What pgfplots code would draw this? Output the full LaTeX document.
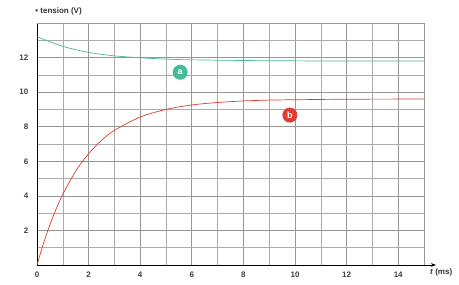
\documentclass[border=0pt]{standalone}
\usepackage{fontspec}
\setmainfont{Liberation Sans}
\usepackage{pgfplots}
\pgfplotsset{compat=1.18}
\usetikzlibrary{arrows.meta}
\definecolor{cgreen}{RGB}{70,185,150}
\definecolor{cred}{RGB}{225,60,50}
\definecolor{gridc}{RGB}{150,150,150}
\begin{document}
\begin{tikzpicture}
\begin{axis}[name=ax,
  scale only axis, width=387pt, height=242pt,
  xmin=0, xmax=15, ymin=0, ymax=14,
  axis lines=left,
  axis line style={-, black, line width=0.8pt},
  x axis line style={-{Stealth[length=5pt]}, shorten >=-12pt},
  y axis line style={-},
  xtick={0,2,...,14}, ytick={2,4,...,12},
  minor xtick={1,3,...,15}, minor ytick={1,3,...,13},
  grid=both,
  major grid style={gridc, line width=0.7pt},
  minor grid style={gridc!80, line width=0.5pt},
  tick style={draw=none},
  ticklabel style={font=\bfseries\footnotesize, text=black!75},
  xticklabel style={yshift=-1pt},
  yticklabel style={xshift=-3pt},
  /pgf/number format/assume math mode=true,
  clip=false,
]
\draw[gridc, line width=0.7pt] (axis cs:0,14) -- (axis cs:15,14) -- (axis cs:15,0);
\addplot[cred, line width=0.7pt, smooth] coordinates {
(0,0) (0.25,1.25) (0.5,2.33) (0.75,3.27) (1,4.09) (1.5,5.43) (2,6.44) (2.5,7.21)
(3,7.79) (4,8.56) (5,9.00) (6,9.26) (7,9.40) (8,9.49) (9,9.54) (10,9.56) (12,9.59) (15,9.6)};
\addplot[cgreen, line width=0.7pt, smooth] coordinates {
(0,13.2) (1,12.65) (2,12.3) (3,12.1) (4,11.99) (5,11.91) (6,11.87) (8,11.83) (10,11.81) (12,11.8) (15,11.8)};
\node[circle, fill=cgreen, inner sep=1pt, minimum size=15pt, text=white, font=\bfseries\small] at (axis cs:5.55,11.15) {a};
\node[circle, fill=cred, inner sep=1pt, minimum size=15pt, text=white, font=\bfseries\small] at (axis cs:9.8,8.67) {b};
\node[anchor=west, font=\bfseries\footnotesize, text=black!80] at (axis cs:-0.2,14.65) {\textbullet\ tension (V)};
\node[anchor=west, font=\bfseries\footnotesize, text=black!80] at (axis cs:15.1,-0.45) {\textit{t} (ms)};
\end{axis}
\pgfresetboundingbox
\path (ax.south west) ++(-37pt,-20pt) coordinate (bl);
\path (ax.north east) ++(35pt,23pt) coordinate (tr);
\path (bl) rectangle (tr);
\end{tikzpicture}
\end{document}
